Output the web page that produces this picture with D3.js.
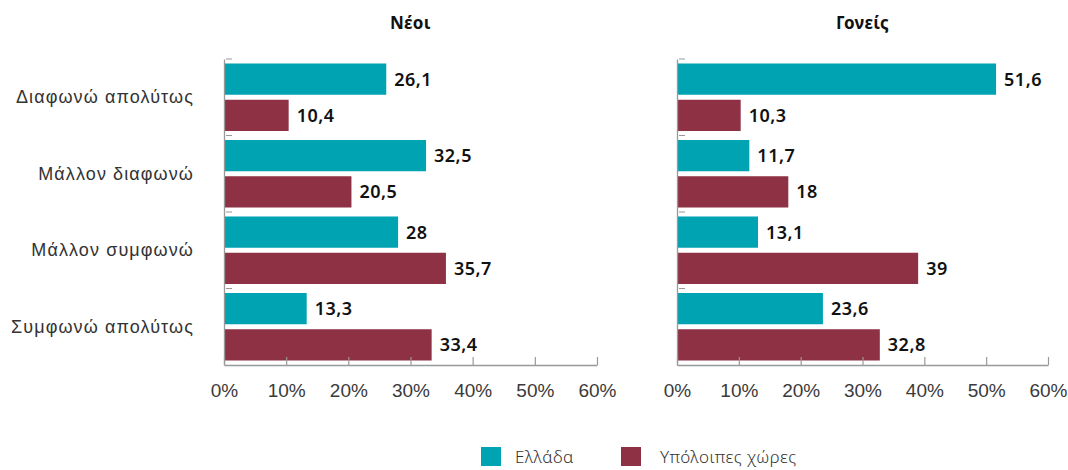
<!DOCTYPE html>
<html>
<head>
<meta charset="utf-8">
<script src="https://cdn.jsdelivr.net/npm/d3@7"></script>
<style>
  html, body { margin: 0; padding: 0; background: #fff; }
  svg { display: block; font-family: "Noto Sans", "Open Sans", sans-serif; }
</style>
</head>
<body>
<svg id="chart" width="1068" height="470"></svg>
<script>
const categories = ["Διαφωνώ απολύτως", "Μάλλον διαφωνώ", "Μάλλον συμφωνώ", "Συμφωνώ απολύτως"];
const seriesNames = ["Ελλάδα", "Υπόλοιπες χώρες"];
const panelTitles = ["Νέοι", "Γονείς"];
const youthGreece = [26.1, 32.5, 28, 13.3];
const youthOthers = [10.4, 20.5, 35.7, 33.4];
const parentsGreece = [51.6, 11.7, 13.1, 23.6];
const parentsOthers = [10.3, 18, 39, 32.8];
const xTicks = [0, 10, 20, 30, 40, 50, 60];
const colors = ["#00A3B2", "#8E3145"];

const svg = d3.select("#chart");
const plotTop = 59, plotBottom = 365;

const panels = [
  { title: panelTitles[0], data: [youthGreece, youthOthers], x0: 224, x1: 597, labels: true },
  { title: panelTitles[1], data: [parentsGreece, parentsOthers], x0: 677, x1: 1048, labels: false }
];

const fmt = v => String(v).replace(".", ",");

panels.forEach(p => {
  const g = svg.append("g");
  const x = d3.scaleLinear().domain([0, 60]).range([p.x0, p.x1]);
  const y = d3.scaleBand().domain(categories).range([plotTop, plotBottom]);
  const yi = d3.scaleBand().domain(seriesNames).range([0, y.bandwidth()]).paddingInner(0.138).paddingOuter(0.124);

  g.append("text")
    .attr("x", (p.x0 + p.x1) / 2).attr("y", 29)
    .attr("text-anchor", "middle")
    .attr("font-size", 17).attr("font-weight", 700).attr("fill", "#111")
    .attr("letter-spacing", 0.3)
    .text(p.title);

  categories.forEach((c, i) => {
    seriesNames.forEach((s, j) => {
      const v = p.data[j][i];
      const by = y(c) + yi(s);
      g.append("rect")
        .attr("x", x(0) + 1).attr("y", by)
        .attr("width", x(v) - x(0) - 1).attr("height", yi.bandwidth())
        .attr("fill", colors[j]);
      g.append("text")
        .attr("x", x(v) + 8).attr("y", by + yi.bandwidth() / 2)
        .attr("dy", "0.36em")
        .attr("font-size", 18).attr("font-weight", 600).attr("fill", "#111")
        .attr("letter-spacing", 0.5)
        .text(fmt(v));
    });
  });

  const xAxis = d3.axisBottom(x).tickValues(xTicks).tickFormat(d => d + "%").tickSize(0).tickPadding(19);
  const xa = g.append("g").attr("transform", `translate(0,${plotBottom})`).call(xAxis);
  xa.select(".domain").attr("stroke", "#999").attr("stroke-width", 1.3);
  xa.selectAll(".tick text").attr("font-size", 19).attr("fill", "#3a3a3a").attr("font-weight", 300);
  xa.selectAll(".tick").append("line").attr("y1", 0).attr("y2", -8).attr("stroke", "#999").attr("stroke-width", 1.2);

  const yAxis = d3.axisLeft(y).tickSize(0).tickPadding(30);
  const ya = g.append("g").attr("transform", `translate(${p.x0},0)`).call(yAxis);
  ya.select(".domain").attr("stroke", "#999").attr("stroke-width", 1.3);
  if (p.labels) {
    ya.selectAll(".tick text").attr("font-size", 18).attr("fill", "#333").attr("font-weight", 300).attr("letter-spacing", 1.1);
  } else {
    ya.selectAll(".tick text").remove();
  }
  const bounds = categories.map(c => y(c));
  ya.selectAll(".btick").data(bounds).enter().append("line")
    .attr("x1", 2).attr("x2", 8).attr("y1", d => d).attr("y2", d => d)
    .attr("stroke", "#999").attr("stroke-width", 1);
});

const legend = svg.append("g");
const legendItems = [{ name: seriesNames[0], x: 481, tx: 515 }, { name: seriesNames[1], x: 621, tx: 660 }];
legendItems.forEach((it, i) => {
  legend.append("rect").attr("x", it.x).attr("y", 447).attr("width", 20).attr("height", 19).attr("fill", colors[i]);
  legend.append("text").attr("x", it.tx).attr("y", 457).attr("dy", "0.35em")
    .attr("font-size", 17).attr("fill", "#333").attr("font-weight", 300).attr("letter-spacing", 0.4).text(it.name);
});
</script>
</body>
</html>
